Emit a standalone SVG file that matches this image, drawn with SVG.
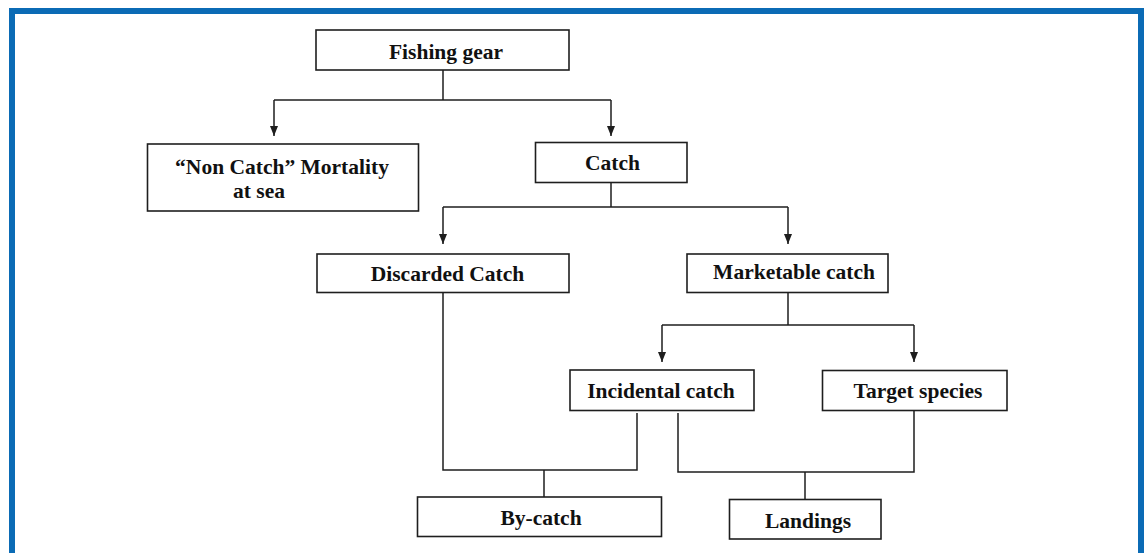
<svg xmlns="http://www.w3.org/2000/svg" width="1144" height="553" viewBox="0 0 1144 553">
  <style>
    .box { fill: #ffffff; stroke: #1e1e1e; stroke-width: 1.6; }
    .lbl { font-family: "Liberation Serif", "Times New Roman", serif; font-weight: bold; font-size: 21.5px; fill: #111111; text-anchor: middle; }
    .wire { fill: none; stroke: #1e1e1e; stroke-width: 1.5; }
  </style>
  <defs>
    <!-- solid triangular head, drawn pointing along +x so orient="auto" follows the line -->
    <marker id="arrow" viewBox="0 0 10 8" refX="10" refY="4" markerWidth="10" markerHeight="8" markerUnits="userSpaceOnUse" orient="auto">
      <path d="M0,0 L10,4 L0,8 Z" fill="#1e1e1e"/>
    </marker>
  </defs>

  <!-- frame -->
  <rect x="12" y="11" width="1129" height="600" fill="#ffffff" stroke="#0b6bb5" stroke-width="6"/>

  <!-- connectors -->
  <g id="connectors">
    <!-- fishing gear split -->
    <path class="wire" d="M443,70 V100"/>
    <path class="wire" d="M274,100 H611"/>
    <path class="wire" d="M274,100 V136" marker-end="url(#arrow)"/>
    <path class="wire" d="M611,100 V136" marker-end="url(#arrow)"/>
    <!-- catch split -->
    <path class="wire" d="M611,182 V207"/>
    <path class="wire" d="M443,207 H788"/>
    <path class="wire" d="M443,207 V244" marker-end="url(#arrow)"/>
    <path class="wire" d="M788,207 V244" marker-end="url(#arrow)"/>
    <!-- marketable split -->
    <path class="wire" d="M788,293 V325"/>
    <path class="wire" d="M662,325 H914"/>
    <path class="wire" d="M662,325 V362" marker-end="url(#arrow)"/>
    <path class="wire" d="M914,325 V362" marker-end="url(#arrow)"/>
    <!-- by-catch join -->
    <path class="wire" d="M443,293 V470 H637 V413"/>
    <path class="wire" d="M544,470 V497"/>
    <!-- landings join -->
    <path class="wire" d="M678,413 V472 H914 V410"/>
    <path class="wire" d="M805,472 V499"/>
  </g>

  <g id="fishing-gear">
    <rect class="box" x="316" y="30" width="253" height="40"/>
    <text class="lbl" x="446" y="59">Fishing gear</text>
  </g>

  <g id="non-catch-mortality">
    <rect class="box" x="147.5" y="144" width="271" height="67"/>
    <text class="lbl" x="282" y="174">“Non Catch” Mortality</text>
    <text class="lbl" x="259" y="198">at sea</text>
  </g>

  <g id="catch">
    <rect class="box" x="535.5" y="142.5" width="151.5" height="40"/>
    <text class="lbl" x="612.5" y="170">Catch</text>
  </g>

  <g id="discarded-catch">
    <rect class="box" x="317" y="254" width="252" height="38.5"/>
    <text class="lbl" x="447.5" y="281">Discarded Catch</text>
  </g>

  <g id="marketable-catch">
    <rect class="box" x="687" y="254" width="201" height="38.5"/>
    <text class="lbl" x="794" y="279">Marketable catch</text>
  </g>

  <g id="incidental-catch">
    <rect class="box" x="570" y="370" width="184" height="40.5"/>
    <text class="lbl" x="661" y="398">Incidental catch</text>
  </g>

  <g id="target-species">
    <rect class="box" x="822.5" y="370.5" width="184.5" height="40"/>
    <text class="lbl" x="918" y="398">Target species</text>
  </g>

  <g id="by-catch">
    <rect class="box" x="417.5" y="497" width="244" height="39.5"/>
    <text class="lbl" x="541" y="525">By-catch</text>
  </g>

  <g id="landings">
    <rect class="box" x="729.5" y="499.5" width="151.5" height="39.5"/>
    <text class="lbl" x="808" y="528">Landings</text>
  </g>
</svg>
